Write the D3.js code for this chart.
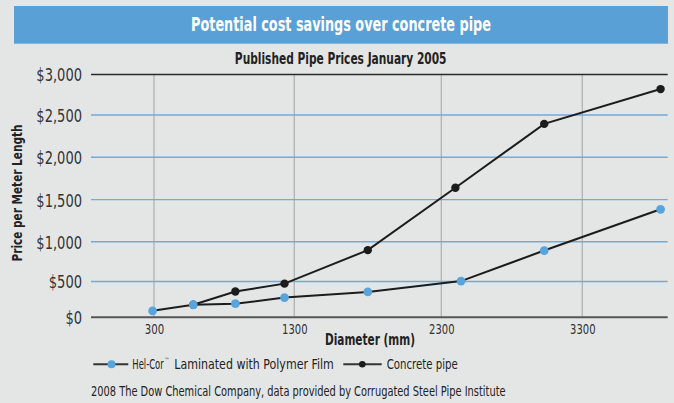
<!DOCTYPE html>
<html>
<head>
<meta charset="utf-8">
<script src="https://cdn.jsdelivr.net/npm/d3@7"></script>
<style>
  html, body { margin: 0; padding: 0; background: #e4e6e6; }
  svg { display: block; }
  text { font-family: "Liberation Sans Narrow", "DejaVu Sans Condensed", "Open Sans", sans-serif; }
</style>
</head>
<body>
<svg id="chart" width="674" height="403"></svg>
<script>
// ---- Data ----
const titleText = "Potential cost savings over concrete pipe";
const subtitleText = "Published Pipe Prices January 2005";
const yAxisTitle = "Price per Meter Length";
const xAxisTitle = "Diameter (mm)";
const footerText = "2008 The Dow Chemical Company, data provided by Corrugated Steel Pipe Institute";

const seriesNames = ["Hel-Cor\u2122 Laminated with Polymer Film", "Concrete pipe"];

const helcorDiameter = [290, 580, 880, 1230, 1800, 2440, 3030, 3850];
const helcorPrice    = [90, 175, 190, 275, 355, 505, 890, 1385];

const concreteDiameter = [580, 880, 1230, 1800, 2400, 3030, 3850];
const concretePrice    = [175, 360, 470, 895, 1640, 2395, 2820];

const yTicks = [0, 500, 1000, 1500, 2000, 2500, 3000];
const xTicks = [300, 1300, 2300, 3300];
const xDomainEnds = [-150, 3900];

// ---- Layout ----
const svg = d3.select("#chart");
const W = 674, H = 403;
const plotLeft = 91, plotRight = 667.7, plotTop = 74.5, plotBottom = 317.3;

// calibrated (piecewise) scales following the reference's gridlines
const y = d3.scaleLinear()
  .domain(yTicks)
  .range([plotBottom, 281.5, 241.8, 199.6, 157.3, 115, plotTop]);
const x = d3.scaleLinear()
  .domain([xDomainEnds[0], ...xTicks, xDomainEnds[1]])
  .range([plotLeft, 154, 294.3, 441.3, 582.3, plotRight]);

const blue = "#58a4dc";
const dark = "#1c1c1c";

// horizontally condense a text to a target width (real geometry via transform)
function fit(sel, targetW, extra) {
  sel.each(function() {
    const n = this.getComputedTextLength();
    const k = n > 0 ? targetW / n : 1;
    const el = d3.select(this);
    const x0 = +el.attr("x") || 0;
    el.attr("x", x0 / k).attr("transform", (extra || "") + ` scale(${k},1)`);
  });
}

// background
svg.append("rect").attr("width", W).attr("height", H).attr("fill", "#e4e6e6");

// banner
svg.append("rect").attr("x", 14).attr("y", 6).attr("width", 654).attr("height", 37.7)
  .attr("fill", "#58a0d6");
svg.append("text").attr("x", 341).attr("y", 31).attr("text-anchor", "middle")
  .attr("fill", "#fff").attr("font-size", 20).attr("font-weight", "bold")
  .text(titleText).call(fit, 300);

// subtitle
svg.append("text").attr("x", 340.7).attr("y", 64).attr("text-anchor", "middle")
  .attr("fill", "#222").attr("font-size", 15.5).attr("font-weight", "bold")
  .text(subtitleText).call(fit, 212);

// vertical gridlines
svg.append("g").selectAll("line").data(xTicks).join("line")
  .attr("x1", d => x(d)).attr("x2", d => x(d))
  .attr("y1", plotTop).attr("y2", plotBottom)
  .attr("stroke", "#b4b6b6").attr("stroke-width", 1.4);

// horizontal gridlines
svg.append("g").selectAll("line").data(yTicks.filter(d => d > 0 && d < 3000)).join("line")
  .attr("x1", plotLeft).attr("x2", plotRight)
  .attr("y1", d => y(d)).attr("y2", d => y(d))
  .attr("stroke", "#72aad8").attr("stroke-width", 1.4);

// top and bottom lines
svg.append("line").attr("x1", plotLeft).attr("x2", plotRight)
  .attr("y1", y(3000)).attr("y2", y(3000)).attr("stroke", "#2a2a2a").attr("stroke-width", 1.4);
svg.append("line").attr("x1", plotLeft).attr("x2", plotRight)
  .attr("y1", y(0)).attr("y2", y(0)).attr("stroke", "#555").attr("stroke-width", 2);

// y axis labels
const yAxis = svg.append("g").attr("transform", `translate(${plotLeft},0)`)
  .call(d3.axisLeft(y).tickValues(yTicks).tickFormat(d3.format("$,")).tickSize(0).tickPadding(9));
yAxis.select(".domain").remove();
const yLabels = yAxis.selectAll("text").attr("font-size", 18).attr("fill", "#333")
  .style("font-family", '"Liberation Sans Narrow", "DejaVu Sans Condensed", sans-serif')
  .attr("dy", "0.36em");
let refNat = 0;
yLabels.each(function(d) { if (d === 3000) refNat = this.getComputedTextLength(); });
const kY = refNat > 0 ? 45.7 / refNat : 1;
yLabels.each(function() {
  d3.select(this).call(fit, this.getComputedTextLength() * kY);
});

// x axis labels
const xAxis = svg.append("g").attr("transform", `translate(0,${plotBottom})`)
  .call(d3.axisBottom(x).tickValues(xTicks).tickFormat(d3.format("d")).tickSize(0).tickPadding(7));
xAxis.select(".domain").remove();
xAxis.selectAll("text").attr("font-size", 14).attr("fill", "#333")
  .style("font-family", '"Liberation Sans Narrow", "DejaVu Sans Condensed", sans-serif')
  .each(function(d) {
    d3.select(this).call(fit, String(d).length === 3 ? 19.5 : 25.5);
  });

// axis titles
svg.append("text").attr("x", 370).attr("y", 345.5).attr("text-anchor", "middle")
  .attr("font-size", 15).attr("font-weight", "bold").attr("fill", "#222")
  .text(xAxisTitle).call(fit, 90);
svg.append("text").attr("x", 0).attr("y", 0)
  .attr("text-anchor", "middle").attr("font-size", 14).attr("font-weight", "bold").attr("fill", "#222")
  .text(yAxisTitle).call(fit, 137, "translate(22,193) rotate(-90)");

// lines
const lineGen = d3.line().x(d => x(d[0])).y(d => y(d[1]));
const concreteData = concreteDiameter.map((d, i) => [d, concretePrice[i]]);
const helcorData = helcorDiameter.map((d, i) => [d, helcorPrice[i]]);

svg.append("path").datum(concreteData).attr("d", lineGen)
  .attr("fill", "none").attr("stroke", dark).attr("stroke-width", 2);
svg.append("path").datum(helcorData).attr("d", lineGen)
  .attr("fill", "none").attr("stroke", dark).attr("stroke-width", 2);

svg.append("g").selectAll("circle").data(concreteData).join("circle")
  .attr("cx", d => x(d[0])).attr("cy", d => y(d[1])).attr("r", 4.2).attr("fill", dark);
svg.append("g").selectAll("circle").data(helcorData).join("circle")
  .attr("cx", d => x(d[0])).attr("cy", d => y(d[1])).attr("r", 4.4).attr("fill", blue);

// legend
const [helName, helRest] = seriesNames[0].split("\u2122");
const leg = svg.append("g");
leg.append("line").attr("x1", 93.3).attr("x2", 128.3).attr("y1", 364.3).attr("y2", 364.3)
  .attr("stroke", "#333").attr("stroke-width", 2);
leg.append("circle").attr("cx", 111.5).attr("cy", 364.3).attr("r", 4).attr("fill", blue);
leg.append("text").attr("x", 132.3).attr("y", 369.3).attr("font-size", 14).attr("fill", "#222")
  .text(helName).call(fit, 31.5);
leg.append("text").attr("x", 164.5).attr("y", 362.5).attr("font-size", 6).attr("fill", "#222")
  .text("\u2122").call(fit, 5);
leg.append("text").attr("x", 174.3).attr("y", 369.3).attr("font-size", 14).attr("fill", "#222")
  .text(helRest.trim()).call(fit, 159.7);

leg.append("line").attr("x1", 343.3).attr("x2", 381.7).attr("y1", 364.3).attr("y2", 364.3)
  .attr("stroke", "#333").attr("stroke-width", 2);
leg.append("circle").attr("cx", 362.3).attr("cy", 364.3).attr("r", 3.3).attr("fill", dark);
leg.append("text").attr("x", 386.7).attr("y", 369.3).attr("font-size", 14).attr("fill", "#222")
  .text(seriesNames[1]).call(fit, 71);

// footer
svg.append("text").attr("x", 91).attr("y", 396).attr("font-size", 13.5).attr("fill", "#222")
  .text(footerText).call(fit, 415);
</script>
</body>
</html>
